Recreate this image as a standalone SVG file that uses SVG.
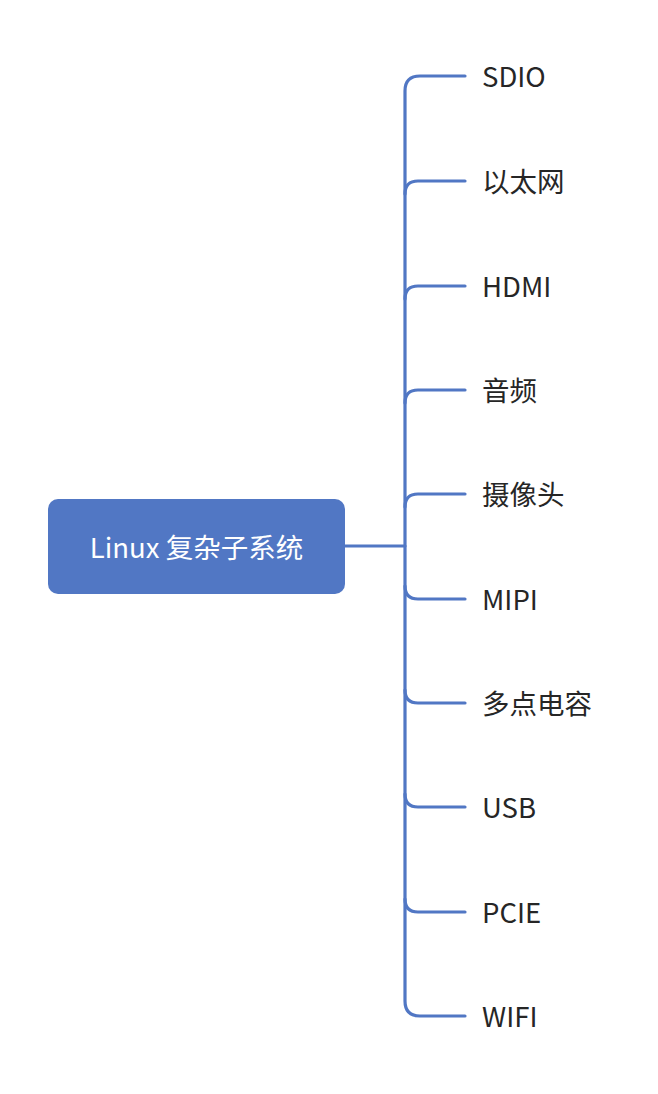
<svg xmlns="http://www.w3.org/2000/svg" width="658" height="1094" viewBox="0 0 658 1094">
<style>
.ln{fill:none;stroke:#5177C4;stroke-width:3.2;stroke-linecap:round}
.lb{font-family:"Noto Sans CJK SC","Noto Sans",sans-serif;font-size:27.5px;fill:#262626}
.rt{font-family:"Noto Sans CJK SC","Noto Sans",sans-serif;font-size:27.5px;fill:#ffffff}
</style>
<rect width="658" height="1094" fill="#ffffff"/>
<g id="connectors">
<path class="ln" d="M345 546 H405"/>
<path class="ln" d="M465 76 H420 Q405 76 405 91 V1001 Q405 1016 420 1016 H465"/>
<path class="ln" d="M465 181 H418 Q405 181 405 194"/>
<path class="ln" d="M465 286 H418 Q405 286 405 299"/>
<path class="ln" d="M465 390 H418 Q405 390 405 403"/>
<path class="ln" d="M465 494 H418 Q405 494 405 507"/>
<path class="ln" d="M465 599 H418 Q405 599 405 586"/>
<path class="ln" d="M465 703 H418 Q405 703 405 690"/>
<path class="ln" d="M465 807 H418 Q405 807 405 794"/>
<path class="ln" d="M465 912 H418 Q405 912 405 899"/>
</g>
<g id="root">
<rect x="48" y="499" width="297" height="95" rx="10" fill="#5177C4"/>
<text class="rt" x="196.5" y="558" text-anchor="middle">Linux 复杂子系统</text>
</g>
<g id="n1"><text class="lb" x="482" y="87">SDIO</text></g>
<g id="n2"><text class="lb" x="482" y="192">以太网</text></g>
<g id="n3"><text class="lb" x="482" y="297">HDMI</text></g>
<g id="n4"><text class="lb" x="482" y="401">音频</text></g>
<g id="n5"><text class="lb" x="482" y="505">摄像头</text></g>
<g id="n6"><text class="lb" x="482" y="610">MIPI</text></g>
<g id="n7"><text class="lb" x="482" y="714">多点电容</text></g>
<g id="n8"><text class="lb" x="482" y="818">USB</text></g>
<g id="n9"><text class="lb" x="482" y="923">PCIE</text></g>
<g id="n10"><text class="lb" x="482" y="1027">WIFI</text></g>
</svg>
